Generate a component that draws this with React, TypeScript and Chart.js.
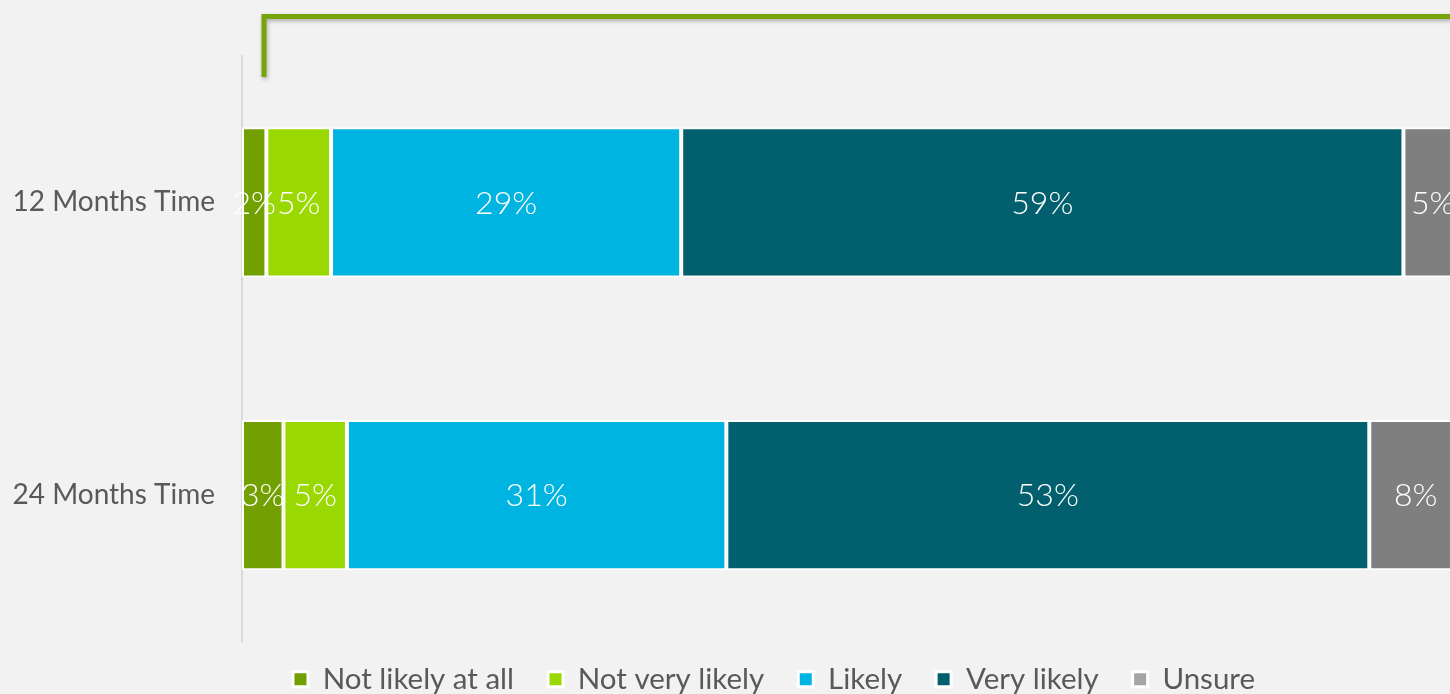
import React, { useEffect, useRef } from 'react';
import { Chart, registerables } from 'chart.js';

Chart.register(...registerables);

const categories = ['12 Months Time', '24 Months Time'];
const seriesNames = ['Not likely at all', 'Not very likely', 'Likely', 'Very likely', 'Unsure'];
const notLikelyAtAll = [2.0, 3.4];
const notVeryLikely = [5.3, 5.2];
const likely = [28.7, 31.1];
const veryLikely = [59.2, 52.7];
const unsure = [4.8, 7.6];
const seriesValues = [notLikelyAtAll, notVeryLikely, likely, veryLikely, unsure];
const barColors = ['#72a000', '#99d800', '#00b4e1', '#015f6e', '#7f7f7f'];
const legendColors = ['#72a000', '#99d800', '#00b4e1', '#015f6e', '#a5a5a5'];

const FONT = 'Lato, "Noto Sans", sans-serif';

const backgroundPlugin = {
  id: 'bg',
  beforeDraw(chart: any) {
    const ctx = chart.ctx;
    ctx.save();
    ctx.fillStyle = '#f2f2f2';
    ctx.fillRect(0, 0, chart.width, chart.height);
    ctx.restore();
  },
};

const legendShiftPlugin = {
  id: 'legendShift',
  afterLayout(chart: any) {
    const lg = chart.legend;
    if (lg) {
      lg.top -= 11;
      lg.bottom -= 11;
      lg.left += 86;
      lg.right += 0;
    }
  },
};

const dataLabelPlugin = {
  id: 'dataLabels',
  afterDatasetsDraw(chart: any) {
    const ctx = chart.ctx;
    ctx.save();
    ctx.font = `300 32px ${FONT}`;
    ctx.fillStyle = '#ffffff';
    ctx.textAlign = 'center';
    ctx.textBaseline = 'middle';
    chart.data.datasets.forEach((ds: any, di: number) => {
      const meta = chart.getDatasetMeta(di);
      meta.data.forEach((el: any, i: number) => {
        const v = ds.data[i];
        const cx = (el.x + el.base) / 2;
        ctx.fillText(Math.round(v) + '%', cx, el.y + 1);
      });
    });
    ctx.restore();
  },
};

const bracketPlugin = {
  id: 'bracket',
  afterDraw(chart: any) {
    const ctx = chart.ctx;
    const a = chart.chartArea;
    const x = a.left + 22;
    const yTop = 16.5;
    const yBottom = a.top + 21;
    ctx.save();
    ctx.shadowColor = 'rgba(0,0,0,0.3)';
    ctx.shadowBlur = 4;
    ctx.shadowOffsetX = 1;
    ctx.shadowOffsetY = 2;
    ctx.strokeStyle = '#76a40a';
    ctx.lineWidth = 5;
    ctx.lineCap = 'butt';
    ctx.lineJoin = 'miter';
    ctx.beginPath();
    ctx.moveTo(x, yBottom);
    ctx.lineTo(x, yTop);
    ctx.lineTo(chart.width + 10, yTop);
    ctx.stroke();
    ctx.restore();
  },
};

export default function App() {
  const ref = useRef<HTMLCanvasElement>(null);

  useEffect(() => {
    if (!ref.current) return;
    const chart = new Chart(ref.current, {
      type: 'bar',
      data: {
        labels: categories,
        datasets: seriesNames.map((name, i) => ({
          label: name,
          data: seriesValues[i],
          backgroundColor: barColors[i],
          borderColor: '#ffffff',
          borderWidth: 2,
          borderSkipped: false,
          barPercentage: 0.513,
          categoryPercentage: 1,
        })),
      },
      options: {
        indexAxis: 'y',
        responsive: false,
        animation: false,
        devicePixelRatio: 1,
        layout: { padding: { top: 56, left: 0, right: 0, bottom: 0 } },
        scales: {
          x: { stacked: true, display: false, min: 0, max: 100 },
          y: {
            stacked: true,
            grid: { display: false, drawTicks: false },
            border: { display: true, color: '#d9d9d9', width: 2 },
            ticks: {
              color: '#595959',
              font: { family: FONT, size: 28 },
              padding: 27,
            },
            afterFit: (s: any) => {
              s.width = 242;
            },
          },
        },
        plugins: {
          tooltip: { enabled: false },
          legend: {
            display: true,
            position: 'bottom',
            labels: {
              color: '#595959',
              font: { family: FONT, size: 29.5 },
              boxWidth: 15,
              boxHeight: 15,
              padding: 34,
              generateLabels: () =>
                seriesNames.map((name, i) => ({
                  text: name,
                  fillStyle: legendColors[i],
                  strokeStyle: '#ffffff',
                  lineWidth: 3,
                  hidden: false,
                  datasetIndex: i,
                  fontColor: '#595959',
                })),
            },
          },
        },
      },
      plugins: [backgroundPlugin, legendShiftPlugin, dataLabelPlugin, bracketPlugin],
    });
    return () => chart.destroy();
  }, []);

  return (
    <div
      style={{
        position: 'fixed',
        left: 0,
        top: 0,
        width: 1450,
        height: 694,
        overflow: 'hidden',
        background: '#f2f2f2',
      }}
    >
      <canvas ref={ref} width={1462} height={715} style={{ display: 'block', width: 1462, height: 715 }} />
    </div>
  );
}
